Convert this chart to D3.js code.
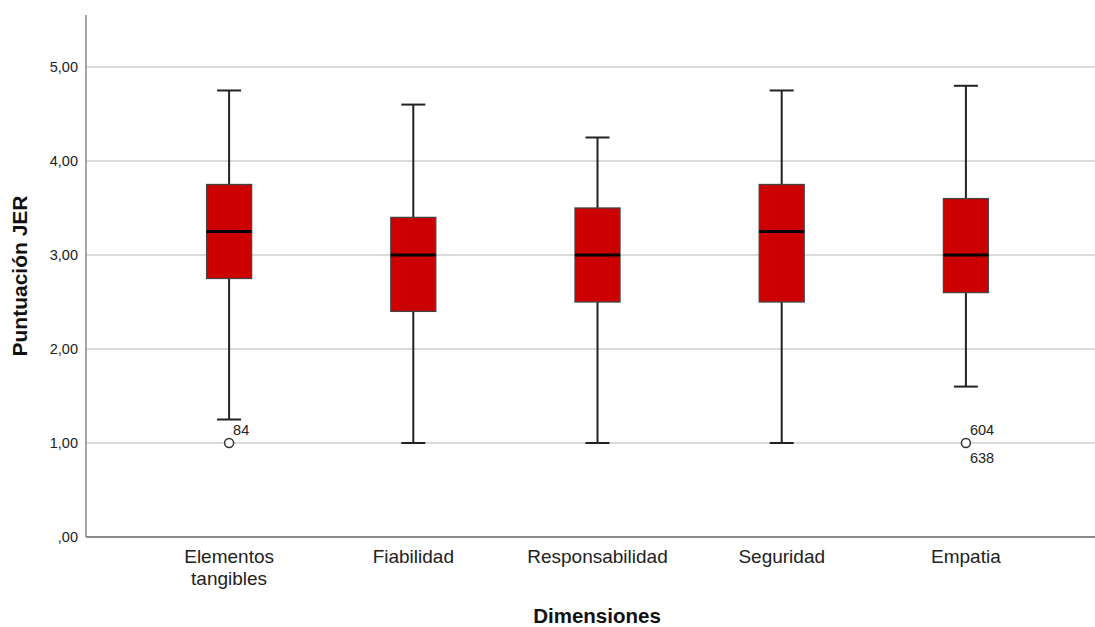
<!DOCTYPE html>
<html><head><meta charset="utf-8">
<script src="https://cdn.jsdelivr.net/npm/d3@7"></script>
<style>body{margin:0;background:#fff}svg{display:block;font-family:"Liberation Sans",Arial,sans-serif}</style>
</head><body>
<svg id="c" width="1095" height="627"></svg>
<script>
const categories = ["Elementos tangibles","Fiabilidad","Responsabilidad","Seguridad","Empatia"];
const whiskerHigh = [4.75, 4.60, 4.25, 4.75, 4.80];
const q3 = [3.75, 3.40, 3.50, 3.75, 3.60];
const median = [3.25, 3.00, 3.00, 3.25, 3.00];
const q1 = [2.75, 2.40, 2.50, 2.50, 2.60];
const whiskerLow = [1.25, 1.00, 1.00, 1.00, 1.60];
const outliers = [
  {cat: "Elementos tangibles", value: 1.00, labels: ["84"]},
  {cat: "Empatia", value: 1.00, labels: ["604", "638"]}
];
const yTicks = [0, 1, 2, 3, 4, 5];

const svg = d3.select("#c");
const x0 = 86, x1 = 1095, yTop = 15, yBot = 537;
const y = d3.scaleLinear().domain([0, 5.553]).range([yBot, yTop]);
const x = d3.scaleBand().domain(categories).range([137, 1058]).padding(0);
const cx = c => x(c) + x.bandwidth() / 2;
const fmt = v => v === 0 ? ",00" : d3.format(".2f")(v).replace(".", ",");

// gridlines
svg.append("g").selectAll("line").data(yTicks.filter(d => d > 0)).join("line")
  .attr("x1", x0).attr("x2", x1).attr("y1", d => y(d)).attr("y2", d => y(d))
  .attr("stroke", "#cfcfcf").attr("stroke-width", 1.5);

// y axis
const ya = svg.append("g").attr("transform", `translate(${x0},0)`)
  .call(d3.axisLeft(y).tickValues(yTicks).tickFormat(fmt).tickSize(0).tickPadding(8));
ya.select(".domain").remove();
ya.selectAll("text").attr("font-size", 14.5).attr("fill", "#222").attr("font-family", "Liberation Sans, Arial, sans-serif");
svg.append("line").attr("x1", x0).attr("x2", x0).attr("y1", yTop).attr("y2", yBot).attr("stroke", "#888").attr("stroke-width", 1.5);

// x axis
const xa = svg.append("g").attr("transform", `translate(0,${yBot})`)
  .call(d3.axisBottom(x).tickSize(0).tickPadding(0).tickFormat(""));
xa.select(".domain").remove();
svg.append("line").attr("x1", x0).attr("x2", x1).attr("y1", yBot).attr("y2", yBot).attr("stroke", "#666").attr("stroke-width", 1.5);
xa.selectAll(".tick").each(function(d) {
  const words = d === "Elementos tangibles" ? ["Elementos", "tangibles"] : [d];
  const t = d3.select(this).append("text").attr("fill", "#222").attr("font-size", 19)
    .attr("text-anchor", "middle").attr("font-family", "Liberation Sans, Arial, sans-serif");
  words.forEach((w, i) => t.append("tspan").attr("x", 0).attr("y", 26 + i * 22).text(w));
});

// boxes
const data = categories.map((c, i) => ({c, hi: whiskerHigh[i], q3: q3[i], med: median[i], q1: q1[i], lo: whiskerLow[i]}));
const bw = 45, cap = 24;
const g = svg.append("g").selectAll("g").data(data).join("g").attr("transform", d => `translate(${cx(d.c)},0)`);
g.append("line").attr("y1", d => y(d.hi)).attr("y2", d => y(d.q3)).attr("stroke", "#222").attr("stroke-width", 2);
g.append("line").attr("y1", d => y(d.q1)).attr("y2", d => y(d.lo)).attr("stroke", "#222").attr("stroke-width", 2);
g.append("line").attr("x1", -cap/2).attr("x2", cap/2).attr("y1", d => y(d.hi)).attr("y2", d => y(d.hi)).attr("stroke", "#222").attr("stroke-width", 2);
g.append("line").attr("x1", -cap/2).attr("x2", cap/2).attr("y1", d => y(d.lo)).attr("y2", d => y(d.lo)).attr("stroke", "#222").attr("stroke-width", 2);
g.append("rect").attr("x", -bw/2).attr("width", bw).attr("y", d => y(d.q3)).attr("height", d => y(d.q1) - y(d.q3))
  .attr("fill", "#cc0000").attr("stroke", "#444").attr("stroke-width", 1.3);
g.append("line").attr("x1", -bw/2).attr("x2", bw/2).attr("y1", d => y(d.med)).attr("y2", d => y(d.med)).attr("stroke", "#000").attr("stroke-width", 3);

// outliers
const og = svg.append("g").selectAll("g").data(outliers).join("g").attr("transform", d => `translate(${cx(d.cat)},${y(d.value)})`);
og.append("circle").attr("r", 4.5).attr("fill", "#fff").attr("stroke", "#333").attr("stroke-width", 1.5);
og.each(function(d) {
  const s = d3.select(this);
  d.labels.forEach((l, i) => s.append("text").attr("x", 4).attr("y", i === 0 ? -8 : 20)
    .attr("font-size", 14.5).attr("fill", "#222").text(l));
});

// titles
svg.append("text").attr("x", 597).attr("y", 623).attr("text-anchor", "middle").attr("font-weight", "bold")
  .attr("font-size", 20.5).attr("fill", "#111").text("Dimensiones");
svg.append("text").attr("transform", "translate(27,276) rotate(-90)").attr("text-anchor", "middle").attr("font-weight", "bold")
  .attr("font-size", 21).attr("fill", "#111").text("Puntuación JER");
</script>
</body></html>
